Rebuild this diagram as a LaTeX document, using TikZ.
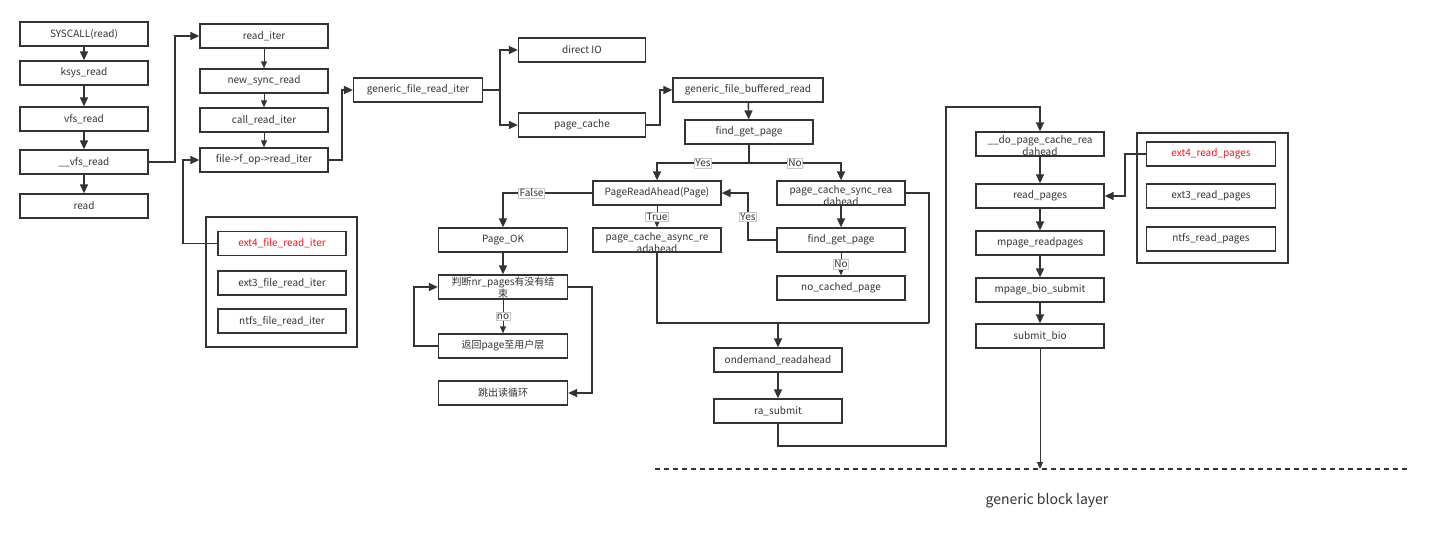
\documentclass[tikz,border=0pt]{standalone}
\usepackage{fontspec}
\setmainfont{Noto Sans CJK SC}
\usetikzlibrary{arrows.meta}
\definecolor{ink}{HTML}{333333}
\definecolor{redink}{HTML}{F0141E}
\begin{document}
\begin{tikzpicture}[x=1pt,y=-1pt,
  box/.style={draw=ink,line width=1.3pt,fill=white,minimum width=128pt,minimum height=24pt,inner sep=0pt,font=\fontsize{10}{12}\selectfont,text=ink},
  conn/.style={draw=ink,line width=1.4pt,-{Triangle[length=9pt,width=8pt]}},
  thinconn/.style={draw=ink,line width=0.9pt,-{Triangle[length=7pt,width=6pt]}},
  plain/.style={draw=ink,line width=1.4pt},
  lab/.style={fill=white,draw=gray!45,line width=0.4pt,inner sep=1pt,font=\fontsize{10}{11}\selectfont,text=ink},
  grp/.style={draw=ink,line width=1.3pt},
  wrap/.style={font=\fontsize{10}{12}\selectfont,text=ink,align=center,inner sep=0pt,anchor=north},
  redtext/.style={text=redink}
]
\useasboundingbox (0,0) rectangle (1430,537);

% left column
\node[box] (sys) at (84,34) {SYSCALL(read)};
\node[box] (ksys) at (84,73) {ksys\_read};
\node[box] (vfs) at (84,119) {vfs\_read};
\node[box] (uvfs) at (84,162) {\_\_vfs\_read};
\node[box] (rd) at (84,206) {read};

% second column
\node[box] (riter) at (264,36) {read\_iter};
\node[box] (nsr) at (264,81) {new\_sync\_read};
\node[box] (cri) at (264,120) {call\_read\_iter};
\node[box] (fop) at (264,160) {file->f\_op->read\_iter};

% left group
\draw[grp] (206,217) rectangle (357,347);
\node[box,redtext] (ext4f) at (282,243.5) {ext4\_file\_read\_iter};
\node[box] (ext3f) at (282,283) {ext3\_file\_read\_iter};
\node[box] (ntfsf) at (282,321) {ntfs\_file\_read\_iter};

% generic
\node[box,minimum width=129pt] (gfri) at (418,90) {generic\_file\_read\_iter};
\node[box,minimum width=127pt] (dio) at (582,50) {direct IO};
\node[box,minimum width=127pt] (pc) at (582,125) {page\_cache};
\node[box,minimum width=150pt] (gfbr) at (748,90) {generic\_file\_buffered\_read};
\node[box] (fgp) at (749,132) {find\_get\_page};

\node[box] (pra) at (657,193) {PageReadAhead(Page)};
\node[box] (psync) at (841,193) {};
\node[wrap] (psynct) at ([yshift=-4.5pt]psync.north) {page\_cache\_sync\_rea\\dahead};
\node[box] (fgp2) at (841,240) {find\_get\_page};
\node[box] (ncp) at (841,288) {no\_cached\_page};
\node[box] (pasync) at (657,240) {};
\node[wrap] (pasynct) at ([yshift=-4.5pt]pasync.north) {page\_cache\_async\_re\\adahead};

\node[box,minimum width=129pt] (pok) at (503,240) {Page\_OK};
\node[box,minimum width=129pt] (judge) at (503,287) {};
\node[wrap] (judget) at ([yshift=-3pt]judge.north) {判断nr\_pages有没有结\\束};
\node[box,minimum width=129pt] (ret) at (503,346) {返回page至用户层};
\node[box,minimum width=129pt] (jump) at (503,393) {跳出读循环};

\node[box] (ond) at (778,360) {ondemand\_readahead};
\node[box] (ras) at (778,411) {ra\_submit};

% right column
\node[box] (dopc) at (1040,144) {};
\node[wrap] (dopct) at ([yshift=-4pt]dopc.north) {\_\_do\_page\_cache\_rea\\dahead};
\node[box] (rp) at (1040,196) {read\_pages};
\node[box] (mrp) at (1040,243) {mpage\_readpages};
\node[box] (mbs) at (1040,290) {mpage\_bio\_submit};
\node[box] (sbio) at (1040,336) {submit\_bio};

% right group
\draw[grp] (1137,133) rectangle (1288,263);
\node[box,minimum width=129pt,redtext] (ext4r) at (1211,154) {ext4\_read\_pages};
\node[box,minimum width=129pt] (ext3r) at (1211,196) {ext3\_read\_pages};
\node[box,minimum width=129pt] (ntfsr) at (1211,239) {ntfs\_read\_pages};

% connectors: left column
\draw[conn] (sys) -- (ksys);
\draw[conn] (ksys) -- (vfs);
\draw[conn] (vfs) -- (uvfs);
\draw[conn] (uvfs) -- (rd);
\draw[conn] (uvfs.east) -- (175,162) |- (riter.west);
\draw[thinconn] (riter) -- (nsr);
\draw[thinconn] (nsr) -- (cri);
\draw[thinconn] (cri) -- (fop);
\draw[conn] (ext4f.west) -- (183,243.5) |- (fop.west);
\draw[conn] (fop.east) -- (342,160) |- (gfri.west);

\draw[plain] (gfri.east) -- (500,90);
\draw[conn] (500,90) |- (dio.west);
\draw[conn] (500,90) |- (pc.west);
\draw[conn] (pc.east) -- (660,125) |- (gfbr.west);
\draw[conn] (gfbr) -- (fgp);

\coordinate (split) at (749,163);
\draw[plain] (fgp.south) -- (split);
\draw[conn] (split) -| (pra.north) node[lab,pos=0.25] {Yes};
\draw[conn] (split) -| (psync.north) node[lab,pos=0.25] {No};
\draw[conn] (psync) -- (fgp2);
\draw[thinconn] (fgp2) -- (ncp) node[lab,midway] {No};
\draw[conn] (fgp2.west) -- (748,240) |- (pra.east) node[lab,pos=0.25] {Yes};
\draw[conn] (pra.west) -| (pok.north) node[lab,pos=0.34] {False};
\draw[thinconn] (pra) -- (pasync) node[lab,midway] {True};

\draw[conn] (pok) -- (judge);
\draw[thinconn] (judge) -- (ret) node[lab,midway] {no};
\draw[conn] (judge.east) -- (592,287) |- (jump.east);
\draw[conn] (ret.west) -- (414,346) |- (judge.west);

\coordinate (merge) at (778,323);
\draw[plain] (pasync.south) |- (929,323);
\draw[plain] (psync.east) -| (929,323);
\draw[conn] (merge) -- (ond);
\draw[conn] (ond) -- (ras);
\draw[conn] (ras.south) |- (946,446) |- (1040,107) -- (dopc.north);

\draw[conn] (dopc) -- (rp);
\draw[conn] (rp) -- (mrp);
\draw[conn] (mrp) -- (mbs);
\draw[conn] (mbs) -- (sbio);
\draw[conn] (ext4r.west) -- (1125,154) |- (rp.east);

\coordinate (blk) at (1040,469);
\draw[thinconn] (sbio.south) -- (blk);
\draw[draw=ink,line width=1.3pt,dash pattern=on 5pt off 4pt] (655,469) -- (1410,469);
\node[font=\fontsize{14}{16}\selectfont,text=ink] (gbl) at (1047,501) {generic block layer};
\end{tikzpicture}
\end{document}
